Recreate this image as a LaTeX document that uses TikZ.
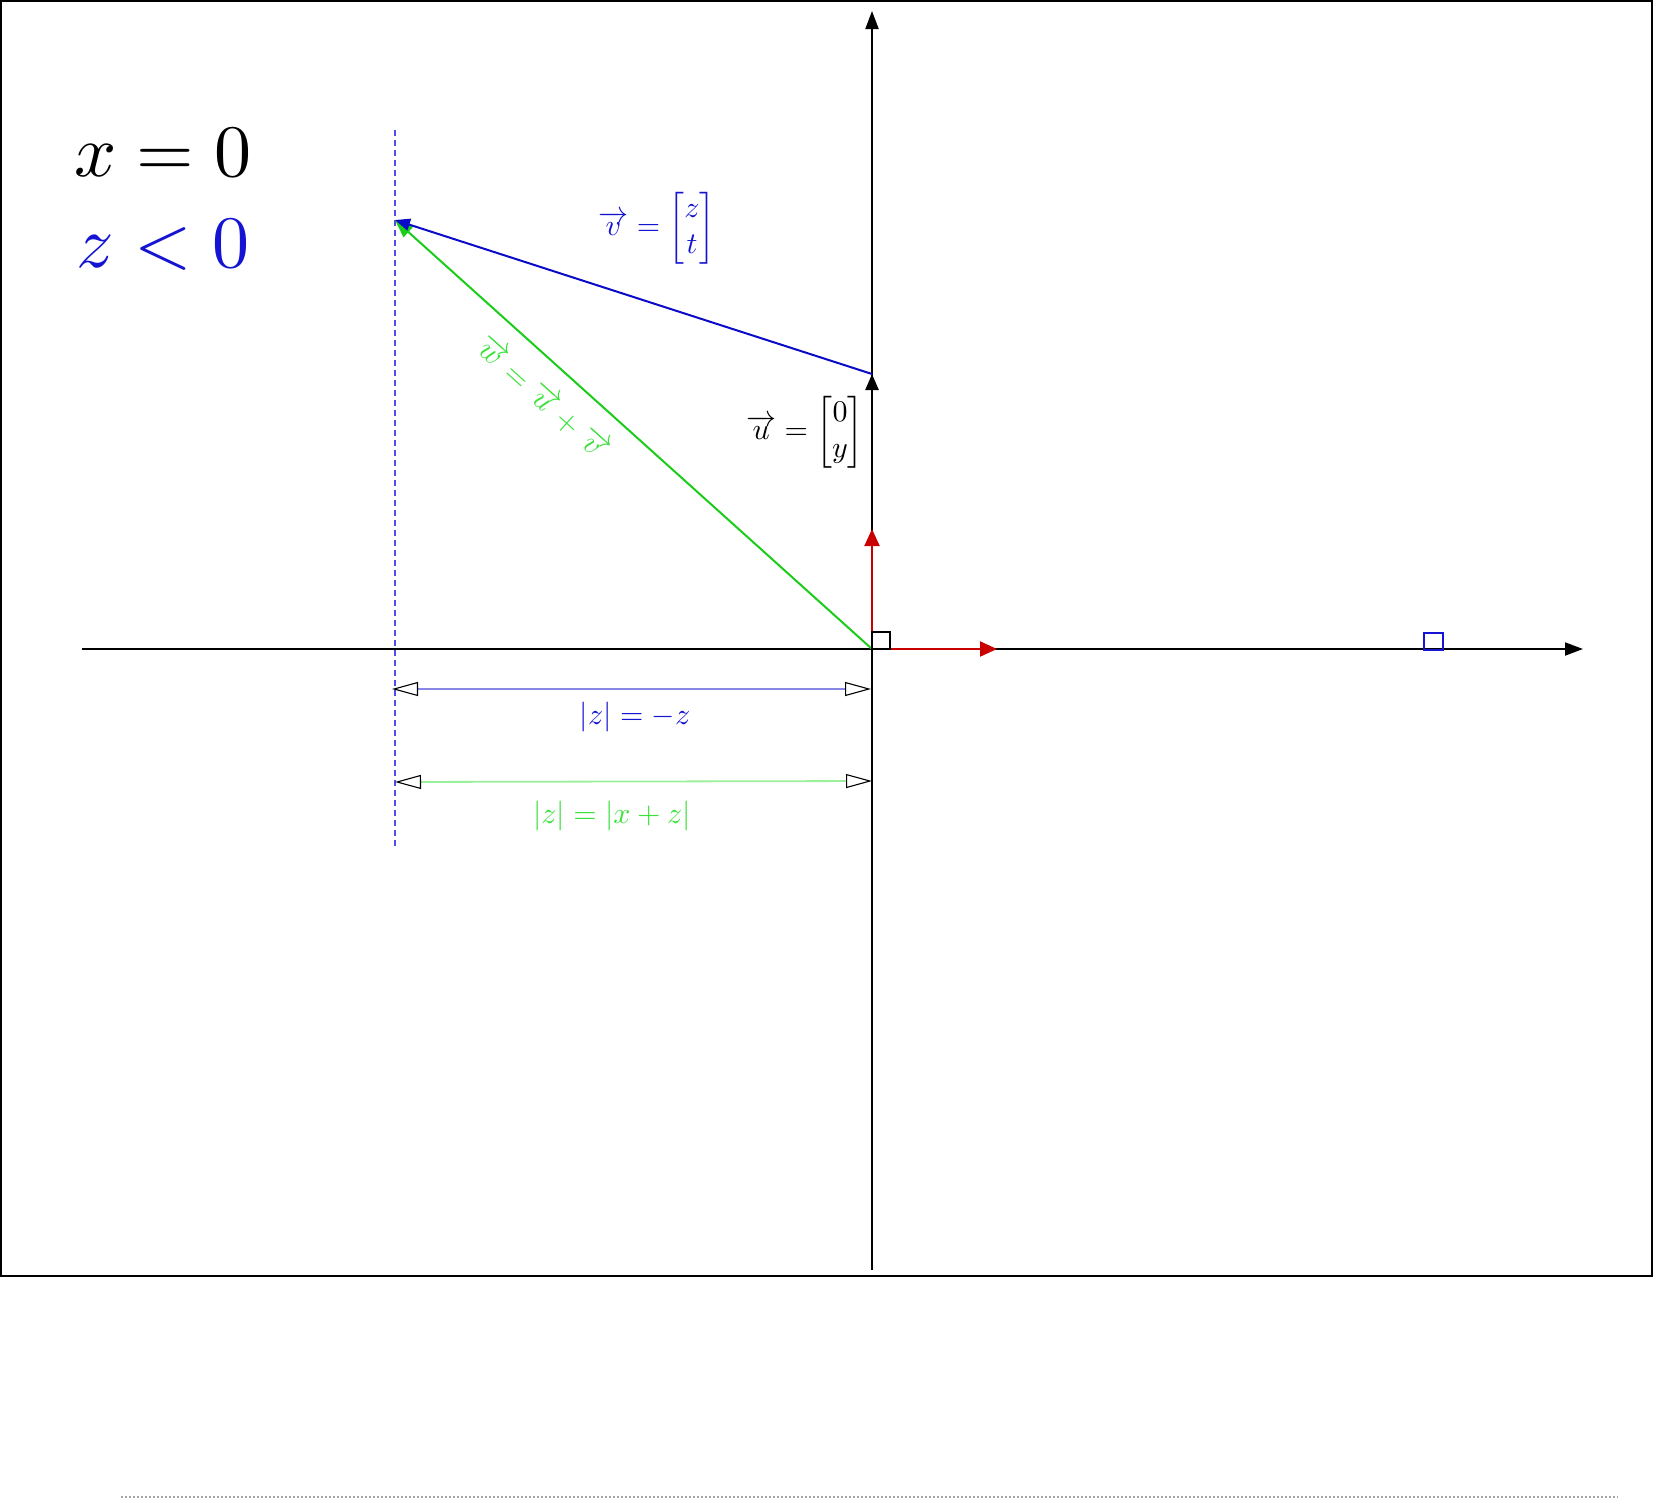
\documentclass[tikz,border=0pt]{standalone}
\usepackage{amsmath}
\usepackage{graphicx}
\usetikzlibrary{arrows.meta}
\definecolor{vblue}{RGB}{10,10,200}
\definecolor{tblue}{RGB}{20,20,210}
\definecolor{wgreen}{RGB}{25,205,25}
\definecolor{tgreen}{RGB}{60,225,60}
\definecolor{dblue}{RGB}{135,135,230}
\definecolor{dgreen}{RGB}{155,240,155}
\definecolor{dashblue}{RGB}{80,80,230}
\definecolor{vred}{RGB}{200,0,0}
\newcommand{\lblsz}[1]{\scalebox{3.0}{#1}}
\newcommand{\bigsz}[1]{\scalebox{7.4}{#1}}
\tikzset{
  axis/.style={line width=2pt,-{Triangle[length=18pt,width=13pt]}},
  vecu/.style={line width=2.4pt,black,-{Triangle[length=16pt,width=13pt]}},
  vecv/.style={line width=2pt,vblue,-{Triangle[length=15pt,width=12pt]}},
  vecw/.style={line width=2pt,wgreen,-{Triangle[length=18pt,width=14pt]}},
  basis/.style={line width=2pt,vred,-{Triangle[length=17pt,width=15pt]}},
  dimline/.style={line width=1.8pt,{Triangle[open,black,length=26pt,width=14pt,line width=1.1pt]}-{Triangle[open,black,length=26pt,width=14pt,line width=1.1pt]}},
  lbl/.style={inner sep=0pt},
  biglbl/.style={inner sep=0pt}
}
\begin{document}
\begin{tikzpicture}[x=1pt,y=-1pt]
\useasboundingbox (0,0) rectangle (1653,1499);
% frame
\draw[line width=2pt] (1,1) rectangle (1652,1276);
% coordinates
\coordinate (O) at (872,649);
\coordinate (U) at (872,374);
\coordinate (V) at (395,220);
\coordinate (XL) at (82,649);
\coordinate (XR) at (1583,649);
\coordinate (YT) at (872,11);
\coordinate (YB) at (872,1270);
\coordinate (E1) at (997,649);
\coordinate (E2) at (872,529);
\coordinate (DT) at (395,130);
\coordinate (DB) at (395,847);
\coordinate (A1) at (392,689);
\coordinate (A2) at (871,689);
\coordinate (B1) at (395,782);
\coordinate (B2) at (872,781);
\coordinate (G1) at (121,1497);
\coordinate (G2) at (1618,1497);
% axes
\draw[axis] (XL) -- (XR);
\draw[axis] (YB) -- (YT);
% dashed line
\draw[dashblue,line width=1.8pt,dash pattern=on 6pt off 4pt] (DT) -- (DB);
% vectors
\draw[vecu] (O) -- (U);
\draw[vecw] (O) -- (V);
\draw[vecv] (U) -- (V);
\draw[basis] (O) -- (E1);
\draw[basis] (O) -- (E2);
% right angle and small square
\draw[line width=1.8pt] (O) rectangle ++(18,-17);
\draw[tblue,line width=1.8pt] (1424,633) rectangle (1443,650);
% dimension lines
\draw[dimline,dblue] (A1) -- (A2);
\draw[dimline,dgreen] (B1) -- (B2);
% labels
\node[biglbl,black] (l1) at (163,153) {\bigsz{$x=0$}};
\node[biglbl,tblue] (l2) at (163,245) {\bigsz{$z<0$}};
\node[lbl,tblue] (lv) at (657,228) {\lblsz{$\overrightarrow{v}=\begin{bmatrix}z\\t\end{bmatrix}$}};
\node[lbl,black] (lu) at (805,432) {\lblsz{$\overrightarrow{u}=\begin{bmatrix}0\\y\end{bmatrix}$}};
\node[lbl,tgreen,rotate=-42] (lw) at (543,398) {\lblsz{$\overrightarrow{w}=\overrightarrow{u}+\overrightarrow{v}$}};
\node[lbl,tblue] (lz1) at (635,717) {\lblsz{$|z|=-z$}};
\node[lbl,tgreen] (lz2) at (612,816) {\lblsz{$|z|=|x+z|$}};
% bottom dashed gray line
\draw[gray!70,line width=1.5pt,dash pattern=on 2pt off 2pt] (G1) -- (G2);
\end{tikzpicture}
\end{document}
